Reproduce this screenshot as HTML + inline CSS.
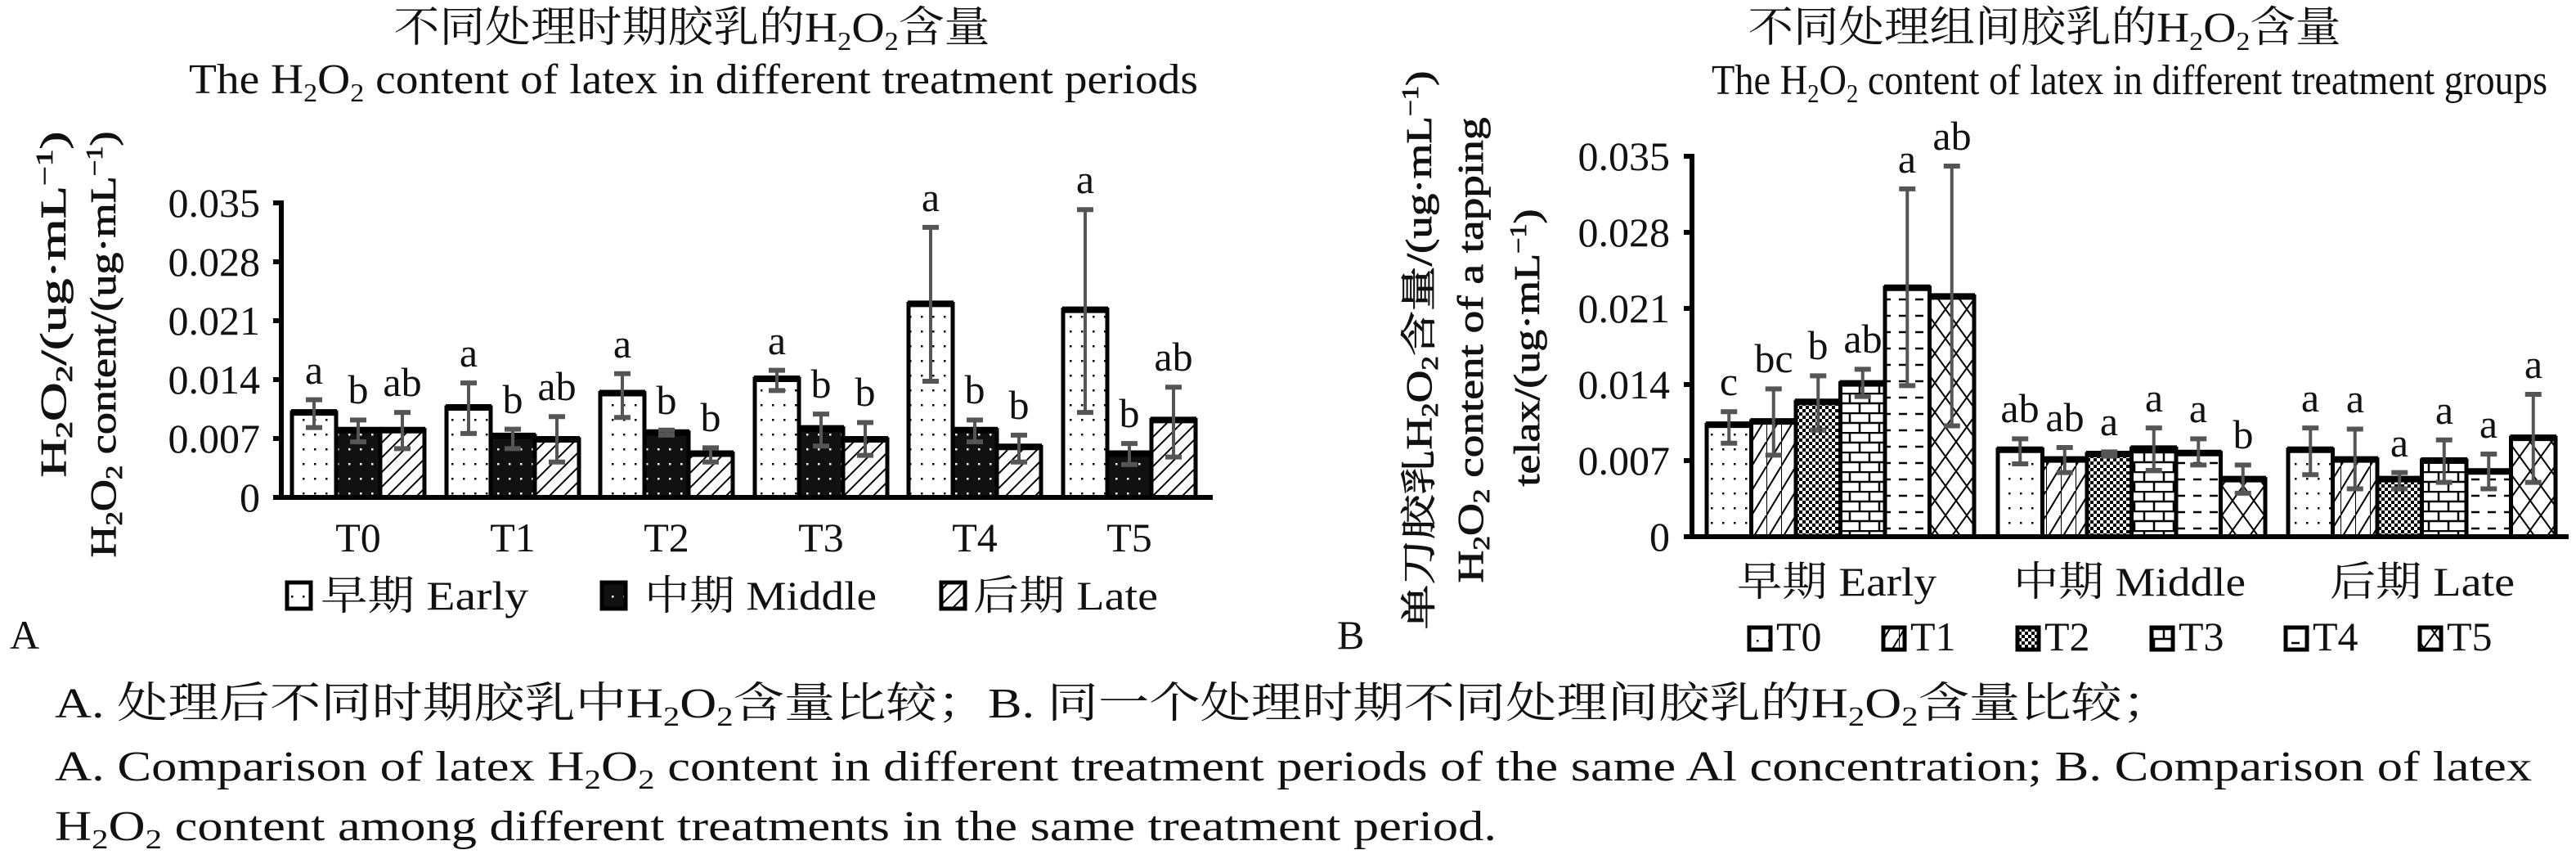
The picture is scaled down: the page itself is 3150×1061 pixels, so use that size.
<!DOCTYPE html>
<html><head><meta charset="utf-8"><style>
html,body{margin:0;padding:0;background:#fff}
svg{display:block}
text{font-family:"Liberation Serif","Noto Serif CJK SC","Noto Sans CJK SC",serif;fill:#111}
.t{font-size:52px}
.tk{font-size:50px}
.lt{font-size:50px;text-anchor:middle}
.yt{font-family:"Liberation Serif","Noto Serif CJK SC",serif;font-weight:normal;font-size:44px;stroke:#111;stroke-width:0.8}
</style></head><body>
<svg id="s" width="3150" height="1061" viewBox="0 0 3150 1061" xmlns="http://www.w3.org/2000/svg">
<defs>
<pattern id="pDot" width="14" height="18" patternUnits="userSpaceOnUse"><rect width="14" height="18" fill="#fff"/><rect x="6" y="8" width="2.5" height="2.5" fill="#000"/></pattern>
<pattern id="pBlk" width="14" height="18" patternUnits="userSpaceOnUse"><rect width="14" height="18" fill="#111"/><rect x="6" y="8" width="2.5" height="2.5" fill="#fff"/></pattern>
<pattern id="pHat" width="18" height="18" patternUnits="userSpaceOnUse"><rect width="18" height="18" fill="#fff"/><path d="M-2,20 L20,-2 M-5,5 L5,-5 M13,23 L23,13" stroke="#000" stroke-width="2"/></pattern>
<pattern id="pZig" width="18" height="30" patternUnits="userSpaceOnUse"><rect width="18" height="30" fill="#fff"/><path d="M0,30 L18,0 M0,0 L0,30" stroke="#000" stroke-width="2"/></pattern>
<pattern id="pChk" width="8" height="8" patternUnits="userSpaceOnUse"><rect width="8" height="8" fill="#fff"/><rect width="4" height="4" fill="#000"/><rect x="4" y="4" width="4" height="4" fill="#000"/></pattern>
<pattern id="pBrk" width="24" height="24" patternUnits="userSpaceOnUse"><rect width="24" height="24" fill="#fff"/><path d="M0,1 H24 M0,13 H24 M6,1 V13 M18,13 V24" stroke="#000" stroke-width="2.5"/></pattern>
<pattern id="pDsh" width="20" height="20" patternUnits="userSpaceOnUse"><rect width="20" height="20" fill="#fff"/><path d="M2,6 H12" stroke="#000" stroke-width="2.5"/></pattern>
<pattern id="pDia" width="26" height="36" patternUnits="userSpaceOnUse"><rect width="26" height="36" fill="#fff"/><path d="M0,0 L26,36 M26,0 L0,36" stroke="#000" stroke-width="2"/></pattern>
</defs>
<g id="geo"></g>

<text x="846" y="51" class="t" text-anchor="middle" textLength="729" lengthAdjust="spacingAndGlyphs">不同处理时期胶乳的H<tspan font-size="32" dy="10">2</tspan><tspan dy="-10">O</tspan><tspan font-size="32" dy="10">2</tspan><tspan dy="-10">含量</tspan></text>
<text x="231" y="114" class="t" textLength="1234" lengthAdjust="spacingAndGlyphs">The H<tspan font-size="32" dy="10">2</tspan><tspan dy="-10">O</tspan><tspan font-size="32" dy="10">2</tspan><tspan dy="-10"> content of latex in different treatment periods</tspan></text>

<g class="tk" text-anchor="end">
<text x="318" y="265">0.035</text><text x="318" y="337">0.028</text><text x="318" y="409">0.021</text><text x="318" y="481">0.014</text><text x="318" y="553">0.007</text><text x="318" y="625">0</text>
</g>
<text class="yt" transform="translate(80,372) rotate(-90)" text-anchor="middle" textLength="423" lengthAdjust="spacingAndGlyphs">H<tspan font-size="28" dy="8">2</tspan><tspan dy="-8">O</tspan><tspan font-size="28" dy="8">2</tspan><tspan dy="-8">/(ug·mL</tspan><tspan font-size="28" dy="-16">−1</tspan><tspan dy="16">)</tspan></text>
<text class="yt" transform="translate(141,421) rotate(-90)" text-anchor="middle" textLength="521" lengthAdjust="spacingAndGlyphs">H<tspan font-size="28" dy="8">2</tspan><tspan dy="-8">O</tspan><tspan font-size="28" dy="8">2</tspan><tspan dy="-8"> content/(ug·mL</tspan><tspan font-size="28" dy="-16">−1</tspan><tspan dy="16">)</tspan></text>
<g class="lt">
<text x="438" y="674">T0</text><text x="627" y="674">T1</text><text x="815" y="674">T2</text><text x="1004" y="674">T3</text><text x="1192" y="674">T4</text><text x="1381" y="674">T5</text>
</g>
<g class="lt">
<text x="384" y="469">a</text><text x="438" y="493">b</text><text x="492" y="484">ab</text>
<text x="573" y="448">a</text><text x="627" y="505">b</text><text x="681" y="489">ab</text>
<text x="761" y="437">a</text><text x="815" y="506">b</text><text x="869" y="527">b</text>
<text x="950" y="433">a</text><text x="1004" y="486">b</text><text x="1058" y="496">b</text>
<text x="1138" y="258">a</text><text x="1192" y="493">b</text><text x="1246" y="512">b</text>
<text x="1327" y="236">a</text><text x="1381" y="522">b</text><text x="1435" y="453">ab</text>
</g>
<rect x="351" y="712" width="29" height="32" fill="url(#pDot)" stroke="#000" stroke-width="5"/>
<text x="392" y="745" class="tk" textLength="254" lengthAdjust="spacingAndGlyphs">早期 Early</text>
<rect x="736" y="712" width="29" height="32" fill="url(#pBlk)" stroke="#000" stroke-width="5"/>
<text x="788" y="745" class="tk" textLength="284" lengthAdjust="spacingAndGlyphs">中期 Middle</text>
<rect x="1151" y="712" width="29" height="32" fill="url(#pHat)" stroke="#000" stroke-width="5"/>
<text x="1190" y="745" class="tk" textLength="226" lengthAdjust="spacingAndGlyphs">后期 Late</text>

<text x="2500" y="51" class="t" text-anchor="middle" textLength="725" lengthAdjust="spacingAndGlyphs">不同处理组间胶乳的H<tspan font-size="32" dy="10">2</tspan><tspan dy="-10">O</tspan><tspan font-size="32" dy="10">2</tspan><tspan dy="-10">含量</tspan></text>
<text x="2093" y="115" class="t" textLength="1022" lengthAdjust="spacingAndGlyphs">The H<tspan font-size="32" dy="10">2</tspan><tspan dy="-10">O</tspan><tspan font-size="32" dy="10">2</tspan><tspan dy="-10"> content of latex in different treatment groups</tspan></text>
<g class="tk" text-anchor="end">
<text x="2042" y="208">0.035</text><text x="2042" y="301">0.028</text><text x="2042" y="394">0.021</text><text x="2042" y="487">0.014</text><text x="2042" y="580">0.007</text><text x="2042" y="673">0</text>
</g>
<text class="yt" transform="translate(1750,428) rotate(-90)" text-anchor="middle" textLength="683" lengthAdjust="spacingAndGlyphs">单刀胶乳H<tspan font-size="28" dy="8">2</tspan><tspan dy="-8">O</tspan><tspan font-size="28" dy="8">2</tspan><tspan dy="-8">含量/(ug·mL</tspan><tspan font-size="28" dy="-16">−1</tspan><tspan dy="16">)</tspan></text>
<text class="yt" transform="translate(1813,428) rotate(-90)" text-anchor="middle" textLength="569" lengthAdjust="spacingAndGlyphs">H<tspan font-size="28" dy="8">2</tspan><tspan dy="-8">O</tspan><tspan font-size="28" dy="8">2</tspan><tspan dy="-8"> content of a tapping</tspan></text>
<text class="yt" transform="translate(1882,425) rotate(-90)" text-anchor="middle" textLength="339" lengthAdjust="spacingAndGlyphs">telax/(ug·mL<tspan font-size="28" dy="-16">−1</tspan><tspan dy="16">)</tspan></text>
<g class="lt">
<text x="2246" y="728" textLength="244" lengthAdjust="spacingAndGlyphs">早期 Early</text>
<text x="2604" y="728" textLength="284" lengthAdjust="spacingAndGlyphs">中期 Middle</text>
<text x="2962" y="728" textLength="226" lengthAdjust="spacingAndGlyphs">后期 Late</text>
</g>
<g class="lt">
<text x="2114" y="483">c</text><text x="2169" y="455">bc</text><text x="2223" y="439">b</text><text x="2278" y="431">ab</text><text x="2332" y="211">a</text><text x="2387" y="183">ab</text>
<text x="2470" y="516">ab</text><text x="2525" y="527">ab</text><text x="2579" y="532">a</text><text x="2634" y="503">a</text><text x="2688" y="516">a</text><text x="2743" y="548">b</text>
<text x="2825" y="503">a</text><text x="2880" y="504">a</text><text x="2934" y="558">a</text><text x="2989" y="518">a</text><text x="3043" y="535">a</text><text x="3098" y="462">a</text>
</g>
<g class="tk">
<rect x="2139" y="767" width="26" height="27" fill="url(#pDot)" stroke="#000" stroke-width="5"/><text x="2172" y="795">T0</text>
<rect x="2303" y="767" width="26" height="27" fill="url(#pZig)" stroke="#000" stroke-width="5"/><text x="2336" y="795">T1</text>
<rect x="2467" y="767" width="26" height="27" fill="url(#pChk)" stroke="#000" stroke-width="5"/><text x="2500" y="795">T2</text>
<rect x="2631" y="767" width="26" height="27" fill="url(#pBrk)" stroke="#000" stroke-width="5"/><text x="2664" y="795">T3</text>
<rect x="2795" y="767" width="26" height="27" fill="url(#pDsh)" stroke="#000" stroke-width="5"/><text x="2828" y="795">T4</text>
<rect x="2959" y="767" width="26" height="27" fill="url(#pDia)" stroke="#000" stroke-width="5"/><text x="2992" y="795">T5</text>
</g>

<text x="12" y="793" font-size="50">A</text>
<text x="1635" y="793" font-size="50">B</text>

<text x="67" y="877" class="t" font-size="54" textLength="2590" lengthAdjust="spacingAndGlyphs">A. 处理后不同时期胶乳中H<tspan font-size="34" dy="10">2</tspan><tspan dy="-10">O</tspan><tspan font-size="34" dy="10">2</tspan><tspan dy="-10">含量比较；B. 同一个处理时期不同处理间胶乳的H</tspan><tspan font-size="34" dy="10">2</tspan><tspan dy="-10">O</tspan><tspan font-size="34" dy="10">2</tspan><tspan dy="-10">含量比较；</tspan></text>
<text x="67" y="954" class="t" font-size="54" textLength="3029" lengthAdjust="spacingAndGlyphs">A. Comparison of latex H<tspan font-size="34" dy="10">2</tspan><tspan dy="-10">O</tspan><tspan font-size="34" dy="10">2</tspan><tspan dy="-10"> content in different treatment periods of the same Al concentration; B. Comparison of latex</tspan></text>
<text x="67" y="1027" class="t" font-size="54" textLength="1763" lengthAdjust="spacingAndGlyphs">H<tspan font-size="34" dy="10">2</tspan><tspan dy="-10">O</tspan><tspan font-size="34" dy="10">2</tspan><tspan dy="-10"> content among different treatments in the same treatment period.</tspan></text>
</svg>
<script>
(function(){
var g=document.getElementById('geo'),NS='http://www.w3.org/2000/svg';
function el(n,a){var e=document.createElementNS(NS,n);for(var k in a)e.setAttribute(k,a[k]);g.appendChild(e);return e;}
function chart(o){
 var Y=function(v){return o.y0-v*o.k;};
 o.groups.forEach(function(gr,gi){
  var gx=o.gx[gi];
  gr.forEach(function(b,bi){
   var x=gx+bi*o.w, yt=Y(b[0]);
   el('rect',{x:x,y:yt,width:o.w,height:o.y0-yt,fill:'url(#'+o.pat[bi]+')',stroke:'#000','stroke-width':5});
   el('line',{x1:x-1,x2:x+o.w+1,y1:yt,y2:yt,stroke:'#000','stroke-width':8});
  });
  gr.forEach(function(b,bi){
   var cx=gx+bi*o.w+o.w/2,y1=Y(b[1]),y2=Y(b[2]);
   el('line',{x1:cx,x2:cx,y1:y1,y2:y2,stroke:'#555','stroke-width':4});
   el('line',{x1:cx-10,x2:cx+10,y1:y1,y2:y1,stroke:'#555','stroke-width':6});
   el('line',{x1:cx-10,x2:cx+10,y1:y2,y2:y2,stroke:'#555','stroke-width':6});
  });
 });
 el('line',{x1:o.ax,x2:o.ax,y1:o.top-3,y2:o.y0+2,stroke:'#000','stroke-width':6});
 el('line',{x1:o.ax,x2:o.xend,y1:o.y0,y2:o.y0,stroke:'#000','stroke-width':6});
 for(var i=0;i<=5;i++){var yy=Y(i*0.007);el('line',{x1:o.ax-10,x2:o.ax,y1:yy,y2:yy,stroke:'#000','stroke-width':6});}
}
chart({y0:608,k:360/0.035,top:248,ax:344,xend:1483,w:54,gx:[357,546,734,923,1111,1300],pat:['pDot','pBlk','pHat'],
groups:[
[[.0101,.0116,.0083],[.0080,.0092,.0066],[.0080,.0101,.0058]],
[[.0107,.0136,.0076],[.0073,.0081,.0058],[.0069,.0096,.0042]],
[[.0124,.0147,.0095],[.0077,.0080,.0074],[.0052,.0059,.0042]],
[[.0141,.0151,.0127],[.0082,.0099,.0061],[.0069,.0089,.0050]],
[[.0230,.0321,.0138],[.0080,.0092,.0066],[.0060,.0074,.0042]],
[[.0223,.0342,.0101],[.0052,.0064,.0039],[.0092,.0131,.0048]]]});
chart({y0:656,k:465/0.035,top:191,ax:2069,xend:3141,w:54.5,gx:[2087,2443,2798],pat:['pDot','pZig','pChk','pBrk','pDsh','pDia'],
groups:[
[[.0103,.0115,.0086],[.0106,.0136,.0075],[.0124,.0148,.0098],[.0141,.0154,.0129],[.0229,.0320,.0139],[.0221,.0341,.0102]],
[[.0080,.0090,.0067],[.0071,.0082,.0059],[.0076,.0078,.0074],[.0081,.0100,.0061],[.0077,.0090,.0066],[.0053,.0066,.0040]],
[[.0080,.0100,.0057],[.0071,.0099,.0044],[.0053,.0059,.0044],[.0070,.0089,.0050],[.0060,.0076,.0044],[.0091,.0131,.0050]]]});
})();
</script>
</body></html>
